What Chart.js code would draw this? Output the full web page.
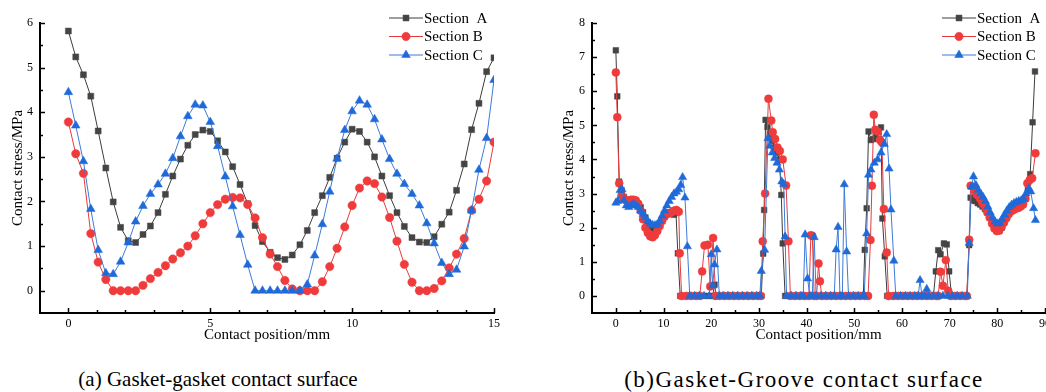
<!DOCTYPE html>
<html>
<head>
<meta charset="utf-8">
<script src="https://cdn.jsdelivr.net/npm/chart.js@4.4.1/dist/chart.umd.min.js"></script>
<style>
html,body{margin:0;padding:0;background:#fff;overflow:hidden;}
body{width:1046px;height:392px;position:relative;font-family:"Liberation Serif",serif;}
#boxA{position:absolute;left:0;top:0;}
#boxB{position:absolute;left:540px;top:0;}
.cap{position:absolute;white-space:nowrap;color:#000;transform:translateX(-50%);line-height:1;}
#capA{left:218px;top:369px;font-size:21px;}
#capB{left:804px;top:368px;font-size:23px;letter-spacing:1.5px;}
</style>
</head>
<body>
<div id="boxA"><canvas id="chartA" width="520" height="350"></canvas></div>
<div id="boxB"><canvas id="chartB" width="520" height="350"></canvas></div>
<div class="cap" id="capA">(a) Gasket-gasket contact surface</div>
<div class="cap" id="capB">(b)Gasket-Groove contact surface</div>
<script>
// (a) gasket-gasket surface, contact position in mm
const posLeft=[0,0.26,0.53,0.79,1.05,1.32,1.58,1.84,2.11,2.37,2.63,2.89,3.16,3.42,3.68,3.95,4.21,4.47,4.74,5.00,
5.26,5.53,5.79,6.05,6.32,6.58,6.84,7.11,7.37,7.63,7.89,8.16,8.42,8.68,8.95,9.21,9.47,9.74,10.00,10.26,
10.53,10.79,11.05,11.32,11.58,11.84,12.11,12.37,12.63,12.89,13.16,13.42,13.68,13.95,14.21,14.47,14.74,15.00];

const stressA=[5.82,5.24,4.84,4.36,3.58,2.75,1.99,1.42,1.12,1.08,1.26,1.45,1.75,2.16,2.57,2.95,3.26,3.50,
3.60,3.57,3.36,3.11,2.78,2.38,1.95,1.46,1.10,0.86,0.74,0.70,0.80,1.03,1.35,1.75,2.13,2.54,2.97,3.33,
3.62,3.57,3.33,3.00,2.57,2.13,1.75,1.44,1.19,1.09,1.08,1.21,1.49,1.76,2.25,2.84,3.61,4.20,4.91,5.22];
const stressB=[3.78,3.07,2.63,1.28,0.64,0.25,0,0,0,0,0.12,0.27,0.41,0.56,0.71,0.85,1.00,1.23,
1.50,1.75,1.93,2.05,2.09,2.08,1.93,1.63,1.19,0.82,0.54,0.23,0.04,0,0,0,0.20,0.54,0.95,1.43,
1.91,2.30,2.46,2.40,2.10,1.64,1.11,0.59,0.19,0,0,0.05,0.22,0.51,0.82,1.17,1.80,2.05,2.46,3.33];
const stressC=[4.45,3.70,2.90,1.83,0.91,0.39,0.37,0.65,1.08,1.55,1.90,2.17,2.38,2.62,2.97,3.46,3.91,4.17,
4.15,3.78,3.24,2.56,1.89,1.25,0.58,0,0,0,0,0,0,0,0.14,0.79,1.49,2.22,2.96,3.60,
4.02,4.26,4.17,3.84,3.39,2.95,2.62,2.39,2.17,1.91,1.51,1.06,0.62,0.37,0.47,0.99,1.80,2.71,3.42,4.72];

// (b) gasket-groove surface, [position mm, stress MPa]
const grooveA=[[0,7.2],[0.3,5.85],[0.7,3.35],[1.2,3.1],[1.7,2.9],[2.2,2.8],[2.7,2.75],[3.2,2.72],[3.7,2.75],[4.2,2.75],
[4.7,2.7],[5.2,2.6],[5.7,2.45],[6.2,2.3],[6.7,2.15],[7.2,2.05],[7.7,1.98],[8.2,1.97],[8.7,2.0],[9.2,2.1],[9.7,2.22],
[10.2,2.33],[10.7,2.42],[11.2,2.45],[11.7,2.42],[12.2,2.38],[12.6,2.45],[13.0,1.25],[13.5,0],
[14.5,0],[15.5,0],[16.5,0],[17.5,0],[18.5,0],[19.5,0],[20.3,0],[20.7,0.33],[21.1,0],[22,0],[23,0],[24,0],[25,0],
[26,0],[27,0],[28,0],[29,0],[30,0],[30.5,0],
[30.9,1.24],[31.1,2.52],[31.4,5.16],[31.8,4.95],[32.3,4.75],[32.8,4.55],[33.3,4.35],[33.8,4.2],[34.3,4.0],[34.7,2.96],
[35.0,1.54],[35.5,0],
[36.5,0],[37.5,0],[38.5,0],[39.5,0],[40.5,0],[41.5,0],[42.5,0],[43.5,0],[44.5,0],[45.5,0],[46.5,0],[47.5,0],[48.5,0],
[49.5,0],[50.5,0],[51.5,0],[51.9,0],
[52.2,1.35],[52.6,2.57],[53.0,4.82],[53.5,4.57],[54.0,4.6],[54.5,4.7],[55.0,4.8],[55.6,4.94],[55.9,2.27],[56.4,1.16],[56.9,0],
[58,0],[59,0],[60,0],[61,0],[62,0],[63,0],[64,0],[65,0],[66,0],[66.6,0],[67.1,0.72],[67.6,1.34],[68.1,1.22],[68.8,1.54],
[69.4,1.51],[69.9,0.72],[70.4,0],[71,0],[72,0],[73,0],[73.6,0],
[74.1,1.49],[74.4,2.88],[74.9,2.8],[75.4,2.78],[75.9,2.72],[76.4,2.68],[76.9,2.62],[77.4,2.55],[77.9,2.45],[78.4,2.32],
[78.9,2.15],[79.4,2.02],[79.9,1.92],[80.4,1.9],[80.9,2.0],[81.4,2.15],[81.9,2.3],[82.4,2.42],[82.9,2.5],[83.4,2.55],
[83.9,2.6],[84.4,2.62],[84.9,2.66],[85.4,2.72],[85.9,2.85],[86.4,3.1],[86.9,3.57],[87.4,5.09],[87.9,6.58]];

const grooveB=[[0,6.55],[0.3,5.24],[0.7,3.3],[1.2,2.95],[1.7,2.85],[2.2,2.8],[2.7,2.8],[3.2,2.82],[3.7,2.82],[4.2,2.8],
[4.7,2.7],[5.2,2.5],[5.7,2.25],[6.2,2.0],[6.7,1.85],[7.2,1.75],[7.7,1.72],[8.2,1.78],[8.7,1.9],[9.2,2.05],[9.7,2.2],
[10.2,2.32],[10.7,2.4],[11.2,2.42],[11.7,2.45],[12.2,2.5],[12.7,2.52],[13.2,2.47],[13.4,1.25],[13.8,0],
[14.8,0],[15.8,0],[16.8,0],[17.6,0],[18.1,0.72],[18.6,1.48],[19.3,1.5],[19.8,0.28],[20.4,1.7],[20.9,0],[21.8,0],
[22.8,0],[23.8,0],[24.8,0],[25.8,0],[26.8,0],[27.8,0],[28.8,0],[29.8,0],[30.4,0],
[30.8,1.6],[31.3,3.0],[32.0,5.78],[32.6,5.14],[32.9,4.8],[33.4,4.6],[33.9,4.35],[34.4,4.25],[35.0,4.0],[35.7,3.24],
[36.2,1.6],[36.6,0],
[37.6,0],[38.6,0],[39.6,0],[40.5,0],[40.9,1.78],[41.2,1.76],[41.6,0],[42.1,0],[42.5,0.95],[42.8,0.43],[43.2,0],
[44.2,0],[45.2,0],[46.2,0],[47.2,0],[48.2,0],[49.2,0],[50.2,0],[51.2,0],[52.2,0],[52.9,0],
[53.4,1.64],[53.7,3.23],[54.1,5.31],[54.4,4.87],[54.9,4.82],[55.4,4.57],[55.8,4.5],[56.2,2.55],[56.8,1.27],[57.2,0],
[58.2,0],[59.2,0],[60.2,0],[61.2,0],[62.2,0],[63.2,0],[64.2,0],[65.2,0],[66.2,0],[67.2,0],[67.6,0],[68.1,0.71],
[68.6,0.3],[69.2,1.05],[69.7,0.15],[70.2,0],[71.2,0],[72.2,0],[73.2,0],[73.6,0],
[74.1,1.65],[74.4,3.23],[74.9,3.2],[75.4,3.05],[75.9,2.95],[76.4,2.85],[76.9,2.72],[77.4,2.6],[77.9,2.45],[78.4,2.3],
[78.9,2.12],[79.4,1.98],[79.9,1.9],[80.4,1.92],[80.9,2.02],[81.4,2.15],[81.9,2.28],[82.4,2.4],[82.9,2.48],[83.4,2.52],
[83.9,2.56],[84.4,2.58],[84.9,2.62],[85.4,2.68],[85.9,2.85],[86.3,3.3],[86.8,3.4],[87.3,3.45],[88.0,4.18]];

const grooveC=[[0,2.73],[0.4,2.78],[0.9,3.1],[1.3,3.12],[1.7,2.8],[2.2,2.65],[2.7,2.6],[3.2,2.65],[3.7,2.7],[4.2,2.65],
[4.7,2.6],[5.2,2.5],[5.7,2.4],[6.2,2.3],[6.7,2.2],[7.2,2.12],[7.7,2.08],[8.2,2.07],[8.7,2.1],[9.2,2.2],[9.7,2.35],
[10.2,2.5],[10.7,2.65],[11.2,2.78],[11.7,2.9],[12.2,3.0],[12.7,3.05],[13.2,3.12],[13.6,3.25],[14.0,3.48],[14.5,2.88],
[15.0,1.45],[15.5,0],
[16.5,0],[17.5,0],[18.5,0],[19.6,0],[20.0,1.22],[20.3,0.3],[20.7,0.92],[21.2,1.36],[21.7,0],[22.5,0],[23.5,0],[24.5,0],
[25.5,0],[26.5,0],[27.5,0],[28.5,0],[29.5,0],[30.2,0],
[30.5,0.73],[31.2,1.35],[31.9,4.62],[32.3,4.4],[32.8,4.2],[33.3,4.04],[33.8,3.9],[34.3,3.7],[34.8,3.35],[35.2,3.28],
[35.5,1.74],[35.8,0],
[36.8,0],[37.8,0],[38.8,0],[39.3,0],[39.7,1.8],[40.2,0.51],[40.7,0],[41.2,0],[41.6,1.72],[42.0,0],[43,0],[44,0],[45,0],
[45.8,0],[46.2,1.36],[46.6,2.02],[47.0,0],[47.5,0],[47.9,3.27],[48.4,1.3],[48.8,0],[49.8,0],[50.8,0],[51.8,0],[52.1,0],
[52.6,1.83],[53.0,3.55],[53.5,3.7],[54.2,3.9],[54.9,4.0],[55.6,4.2],[56.3,4.45],[56.8,4.74],[57.3,3.73],[57.7,2.53],
[58.3,1.03],[58.7,0],
[59.7,0],[60.7,0],[61.7,0],[62.7,0],[63.4,0],[63.8,0.46],[64.2,0],[64.8,0],[65.2,0.2],[65.6,0],[66.6,0],[67.6,0],
[68.6,0],[69.6,0],[70.6,0],[71.6,0],[72.6,0],[73.7,0],
[74.1,1.55],[74.6,3.2],[75.0,3.5],[75.5,3.25],[76.0,3.1],[76.5,3.0],[77.0,2.9],[77.5,2.78],[78.0,2.62],[78.5,2.45],
[79.0,2.3],[79.5,2.18],[80.0,2.12],[80.5,2.15],[81.0,2.25],[81.5,2.38],[82.0,2.5],[82.5,2.6],[83.0,2.67],[83.5,2.72],
[84.0,2.75],[84.5,2.78],[85.0,2.8],[85.5,2.85],[86.0,3.0],[86.6,3.15],[87.0,3.06],[87.6,2.57],[88.0,2.22]];

const seriesNames=["Section  A","Section B","Section C"];
const ticksLeftX=[0,5,10,15];
const ticksLeftY=[0,1,2,3,4,5,6];
const ticksRightX=[0,10,20,30,40,50,60,70,80,90];
const ticksRightY=[0,1,2,3,4,5,6,7,8];

const FONT="'Liberation Serif', 'Times New Roman', serif";

const looks=[
    {line:"#3c3c3c",fill:"#444444",style:"rect",r:4.2},
    {line:"#e63a3c",fill:"#ef3b3b",style:"circle",r:4.2},
    {line:"#3c7bd8",fill:"#1f6ad8",style:"triangle",r:5}
];

function makeSet(i,points,scale){
    const s=looks[i];
    return {
        label:seriesNames[i],
        data:points,
        showLine:true,
        borderColor:s.line,
        borderWidth:1,
        pointStyle:s.style,
        pointRadius:s.r*scale,
        pointHoverRadius:s.r*scale,
        pointBackgroundColor:s.fill,
        pointBorderColor:s.fill,
        pointBorderWidth:0.5,
        order:2-i
    };
}

function pairs(xs,ys){
    return xs.map((x,i)=>({x:x,y:ys[i]}));
}

// ticks point inward, major and minor
const innerTicks={
    id:"innerTicks",
    afterDraw(chart,args,o){
        const ctx=chart.ctx,xs=chart.scales.x,ys=chart.scales.y,a=chart.chartArea;
        ctx.save();
        ctx.strokeStyle="#000";
        ctx.lineWidth=1.5;
        ctx.beginPath();
        for(let v=o.xFrom;v<=xs.max+1e-6;v+=o.xMinor){
            const px=Math.round(xs.getPixelForValue(v))+0.5;
            if(px<=a.left+2) continue;
            const major=Math.abs(v/o.xMajor-Math.round(v/o.xMajor))<1e-6;
            ctx.moveTo(px,a.bottom);
            ctx.lineTo(px,a.bottom-(major?5:3));
        }
        for(let v=0;v<=ys.max+1e-6;v+=o.yMinor){
            const py=Math.round(ys.getPixelForValue(v))+0.5;
            const major=Math.abs(v-Math.round(v))<1e-6;
            ctx.moveTo(a.left,py);
            ctx.lineTo(a.left+(major?5:3),py);
        }
        ctx.stroke();
        ctx.restore();
    }
};

// legend drawn as line + marker, like the origin plot
const lineLegend={
    id:"lineLegend",
    afterDraw(chart,args,o){
        const ctx=chart.ctx;
        chart.data.datasets.forEach((ds,i)=>{
            const y=o.y+i*o.gap;
            ctx.save();
            ctx.strokeStyle=ds.borderColor;
            ctx.lineWidth=1;
            ctx.beginPath();
            ctx.moveTo(o.x,y);
            ctx.lineTo(o.x+o.len,y);
            ctx.stroke();
            ctx.fillStyle=ds.pointBackgroundColor;
            ctx.strokeStyle=ds.pointBorderColor;
            ctx.lineWidth=0.5;
            Chart.helpers.drawPoint(ctx,{pointStyle:ds.pointStyle,radius:o.r[i],rotation:0,borderWidth:0.5},o.x+o.len/2,y);
            ctx.fillStyle="#000";
            ctx.font="15px "+FONT;
            ctx.textBaseline="middle";
            ctx.textAlign="left";
            ctx.fillText(ds.label,o.x+o.len+1,y+1);
            ctx.restore();
        });
    }
};

function buildScales(xMin,xMax,xTicks,yMin,yMax,yTicks,yWidth,yTitlePad){
    const tickFont={family:FONT,size:12};
    const titleFont={family:FONT,size:15};
    return {
        x:{
            type:"linear",
            min:xMin,
            max:xMax,
            afterBuildTicks:s=>{s.ticks=xTicks.map(v=>({value:v}));},
            afterFit:s=>{s.height=37;},
            grid:{display:false,drawTicks:false},
            border:{display:true,color:"#000",width:2},
            ticks:{color:"#000",font:tickFont,padding:4,maxRotation:0,autoSkip:false},
            title:{display:true,text:"Contact position/mm",color:"#000",font:titleFont,padding:{top:0,bottom:6}}
        },
        y:{
            type:"linear",
            min:yMin,
            max:yMax,
            afterBuildTicks:s=>{s.ticks=yTicks.map(v=>({value:v}));},
            afterFit:s=>{s.width=yWidth;},
            grid:{display:false,drawTicks:false},
            border:{display:true,color:"#000",width:2},
            ticks:{color:"#000",font:tickFont,padding:7},
            title:{display:true,text:"Contact stress/MPa",color:"#000",font:titleFont,padding:{top:yTitlePad,bottom:0}}
        }
    };
}

function createChart(id,datasets,scales,padding,tickOpts,legendOpts){
    return new Chart(document.getElementById(id),{
        type:"scatter",
        data:{datasets:datasets},
        options:{
            responsive:false,
            animation:false,
            layout:{padding:padding},
            plugins:{
                legend:{display:false},
                tooltip:{enabled:false},
                innerTicks:tickOpts,
                lineLegend:legendOpts
            },
            scales:scales
        },
        plugins:[innerTicks,lineLegend]
    });
}

createChart("chartA",
    [makeSet(0,pairs(posLeft,stressA),1),makeSet(1,pairs(posLeft,stressB),1),makeSet(2,pairs(posLeft,stressC),1)],
    buildScales(-1,15,ticksLeftX,-0.5,6,ticksLeftY,40,9),
    {top:23,right:26,left:0,bottom:0},
    {xFrom:0,xMinor:1,xMajor:5,yMinor:0.5},
    {x:389,y:18,gap:18.5,len:34,r:[4.2,4.2,5]}
);

createChart("chartB",
    [makeSet(0,grooveA,0.95),makeSet(1,grooveB,0.95),makeSet(2,grooveC,0.95)],
    buildScales(-5,90,ticksRightX,-0.5,8,ticksRightY,52,20),
    {top:23,right:15,left:0,bottom:0},
    {xFrom:0,xMinor:5,xMajor:10,yMinor:0.5},
    {x:402,y:18,gap:18.5,len:34,r:[4.2,4.2,5]}
);
</script>
</body>
</html>
